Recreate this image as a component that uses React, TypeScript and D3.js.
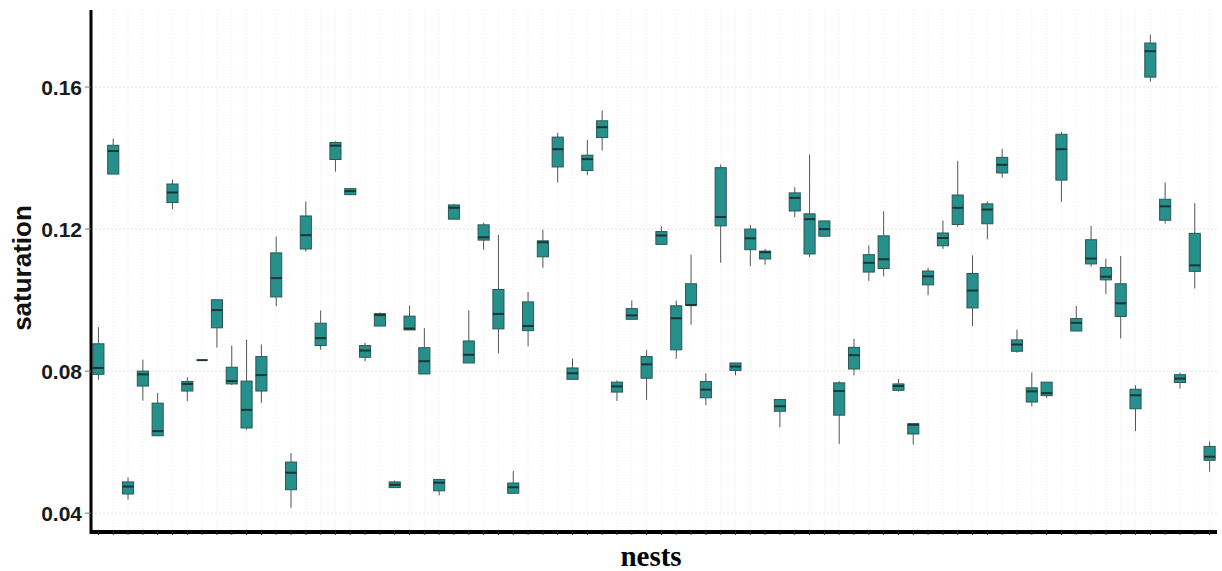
import React from "react";
import * as d3 from "d3";

const nests = Array.from({ length: 76 }, (_, i) => `nest${i + 1}`);

const whiskerLow = [
  0.0776, 0.1355, 0.0438, 0.0717, 0.0618, 0.1256, 0.0716, 0.0831, 0.0866, 0.0761,
  0.0635, 0.0711, 0.0983, 0.0415, 0.1137, 0.086, 0.1362, 0.1297, 0.0828, 0.0927,
  0.0472, 0.0916, 0.0792, 0.045, 0.1228, 0.0823, 0.1142, 0.085, 0.0456, 0.087,
  0.1091, 0.1331, 0.0775, 0.1352, 0.1421, 0.0716, 0.0946, 0.0719, 0.1157, 0.0835,
  0.0931, 0.0704, 0.1105, 0.0788, 0.1096, 0.11, 0.0642, 0.1234, 0.1121, 0.118,
  0.0595, 0.0788, 0.1054, 0.1067, 0.0743, 0.0593, 0.1014, 0.1144, 0.1206, 0.0927,
  0.1171, 0.1345, 0.0852, 0.0701, 0.0724, 0.1277, 0.0913, 0.1094, 0.1017, 0.0892,
  0.0631, 0.1615, 0.1216, 0.0751, 0.1033, 0.0517,
];
const q1 = [
  0.0791, 0.1355, 0.0454, 0.0758, 0.0618, 0.1275, 0.0744, 0.0831, 0.0922, 0.0764,
  0.064, 0.0744, 0.1009, 0.0466, 0.1144, 0.0872, 0.1396, 0.1297, 0.0839, 0.0927,
  0.0472, 0.0916, 0.0792, 0.0463, 0.1228, 0.0823, 0.1169, 0.0919, 0.0456, 0.0914,
  0.1122, 0.1375, 0.0777, 0.1365, 0.1458, 0.0741, 0.0946, 0.078, 0.1157, 0.086,
  0.0986, 0.0725, 0.1209, 0.0802, 0.1142, 0.1116, 0.0687, 0.1251, 0.113, 0.118,
  0.0676, 0.0806, 0.1079, 0.1089, 0.0746, 0.0623, 0.1043, 0.1153, 0.1213, 0.0978,
  0.1215, 0.1358, 0.0856, 0.0713, 0.0731, 0.1338, 0.0913, 0.1102, 0.1057, 0.0954,
  0.0694, 0.1628, 0.1225, 0.0768, 0.1081, 0.0549,
];
const median = [
  0.0809, 0.142, 0.0475, 0.0791, 0.0631, 0.1303, 0.0764, 0.0831, 0.0972, 0.0772,
  0.0691, 0.0789, 0.1062, 0.0514, 0.1183, 0.0893, 0.1435, 0.1307, 0.0858, 0.0958,
  0.048, 0.092, 0.0828, 0.0486, 0.126, 0.0846, 0.1177, 0.0961, 0.0473, 0.0927,
  0.1163, 0.1425, 0.0794, 0.1397, 0.1487, 0.0757, 0.0957, 0.0819, 0.1182, 0.0949,
  0.0986, 0.0748, 0.1234, 0.0813, 0.1174, 0.1135, 0.0701, 0.1288, 0.1228, 0.12,
  0.0744, 0.0845, 0.1105, 0.1115, 0.0758, 0.0649, 0.1067, 0.1175, 0.126, 0.1027,
  0.1255, 0.1381, 0.0875, 0.0743, 0.0738, 0.1425, 0.0936, 0.1117, 0.1066, 0.0991,
  0.0732, 0.1701, 0.1264, 0.0779, 0.1098, 0.0559,
];
const q3 = [
  0.0877, 0.1436, 0.0488, 0.08, 0.071, 0.1327, 0.0771, 0.0831, 0.1001, 0.0811,
  0.0772, 0.0841, 0.1133, 0.0544, 0.1237, 0.0935, 0.1444, 0.1314, 0.0872, 0.0962,
  0.0488, 0.0955, 0.0866, 0.0495, 0.1268, 0.0885, 0.1212, 0.103, 0.0485, 0.0995,
  0.1167, 0.1459, 0.0809, 0.1408, 0.1505, 0.0769, 0.0976, 0.0841, 0.1193, 0.0984,
  0.1046, 0.0771, 0.1373, 0.0823, 0.12, 0.1138, 0.072, 0.1302, 0.1243, 0.1223,
  0.0767, 0.0867, 0.1128, 0.1181, 0.0764, 0.0652, 0.1082, 0.1189, 0.1296, 0.1075,
  0.1271, 0.1402, 0.0888, 0.0753, 0.0769, 0.1467, 0.0948, 0.117, 0.1092, 0.1046,
  0.0749, 0.1724, 0.1284, 0.079, 0.1188, 0.0588,
];
const whiskerHigh = [
  0.0924, 0.1455, 0.0501, 0.0832, 0.0739, 0.1339, 0.0783, 0.0831, 0.1001, 0.0872,
  0.0889, 0.0875, 0.1179, 0.0569, 0.1278, 0.0971, 0.1447, 0.1314, 0.088, 0.0965,
  0.0492, 0.0984, 0.0921, 0.0495, 0.1271, 0.0971, 0.1218, 0.1184, 0.0519, 0.1023,
  0.1198, 0.1471, 0.0835, 0.1451, 0.1534, 0.0774, 0.0999, 0.086, 0.1208, 0.0999,
  0.1128, 0.0794, 0.1382, 0.0823, 0.1212, 0.1144, 0.0722, 0.1318, 0.141, 0.1223,
  0.0772, 0.0891, 0.1154, 0.125, 0.0778, 0.0652, 0.1091, 0.1224, 0.1392, 0.1126,
  0.1278, 0.1426, 0.0917, 0.0796, 0.0769, 0.1474, 0.0984, 0.1209, 0.1117, 0.1124,
  0.076, 0.1748, 0.1331, 0.0796, 0.1273, 0.0602,
];

const yTicks = [0.04, 0.08, 0.12, 0.16];

const W = 1222;
const H = 571;
const left = 91;
const right = 1217;
const top = 10;
const bottom = 532;

export default function App() {
  const x = d3.scaleBand<string>().domain(nests).range([left, right]).padding(0);
  const y = d3.scaleLinear().domain([0.0347, 0.1817]).range([bottom, top]);
  const bw = x.bandwidth();
  const boxW = bw * 0.75;

  return (
    <svg
      width={W}
      height={H}
      style={{ position: "absolute", left: 0, top: 0, background: "#fff" }}
    >
      {/* vertical grid */}
      {nests.map((n) => {
        const cx = (x(n) as number) + bw / 2;
        return (
          <line
            key={"vg" + n}
            x1={cx}
            x2={cx}
            y1={top}
            y2={bottom}
            stroke="#ebebeb"
            strokeWidth={1}
            strokeDasharray="1,2"
          />
        );
      })}
      {/* horizontal grid */}
      {yTicks.map((t) => (
        <line
          key={"hg" + t}
          x1={left}
          x2={right}
          y1={y(t)}
          y2={y(t)}
          stroke="#e2e2e2"
          strokeWidth={1}
          strokeDasharray="2,2"
        />
      ))}
      {/* boxes */}
      {nests.map((n, i) => {
        const cx = (x(n) as number) + bw / 2;
        const yq1 = y(q1[i]);
        const yq3 = y(q3[i]);
        return (
          <g key={"b" + n}>
            <line
              x1={cx}
              x2={cx}
              y1={y(whiskerHigh[i])}
              y2={yq3}
              stroke="#555"
              strokeWidth={1}
            />
            <line
              x1={cx}
              x2={cx}
              y1={yq1}
              y2={y(whiskerLow[i])}
              stroke="#555"
              strokeWidth={1}
            />
            <rect
              x={cx - boxW / 2}
              y={yq3}
              width={boxW}
              height={Math.max(0, yq1 - yq3)}
              fill="#26918c"
              stroke="#2b5755"
              strokeWidth={1}
            />
            <line
              x1={cx - boxW / 2}
              x2={cx + boxW / 2}
              y1={y(median[i])}
              y2={y(median[i])}
              stroke="#1c3533"
              strokeWidth={2}
            />
          </g>
        );
      })}
      {/* y axis */}
      <line x1={left} x2={left} y1={top} y2={bottom + 2} stroke="#000" strokeWidth={3} />
      {yTicks.map((t) => (
        <g key={"yt" + t}>
          <line x1={left - 6} x2={left} y1={y(t)} y2={y(t)} stroke="#777" strokeWidth={1} />
          <text
            x={left - 9}
            y={y(t)}
            dy="0.36em"
            textAnchor="end"
            fontFamily="Liberation Sans, Arial, sans-serif"
            fontWeight="bold"
            fontSize={21}
            fill="#1a1a1a"
          >
            {t.toFixed(2)}
          </text>
        </g>
      ))}
      {/* x axis */}
      <line x1={left - 1} x2={right} y1={bottom} y2={bottom} stroke="#000" strokeWidth={4} />
      {nests.map((n) => {
        const cx = (x(n) as number) + bw / 2;
        return (
          <line
            key={"xt" + n}
            x1={cx}
            x2={cx}
            y1={bottom}
            y2={bottom + 3}
            stroke="#333"
            strokeWidth={1}
          />
        );
      })}
      <text
        x={22}
        y={268}
        transform="rotate(-90, 22, 268)"
        dy="0.35em"
        textAnchor="middle"
        fontFamily="Liberation Sans, Arial, sans-serif"
        fontWeight="bold"
        fontSize={26}
        fill="#111"
      >
        saturation
      </text>
      <text
        x={651}
        y={556}
        dy="0.35em"
        textAnchor="middle"
        fontFamily="Liberation Serif, Times New Roman, serif"
        fontWeight="bold"
        fontSize={29}
        fill="#000"
      >
        nests
      </text>
    </svg>
  );
}
